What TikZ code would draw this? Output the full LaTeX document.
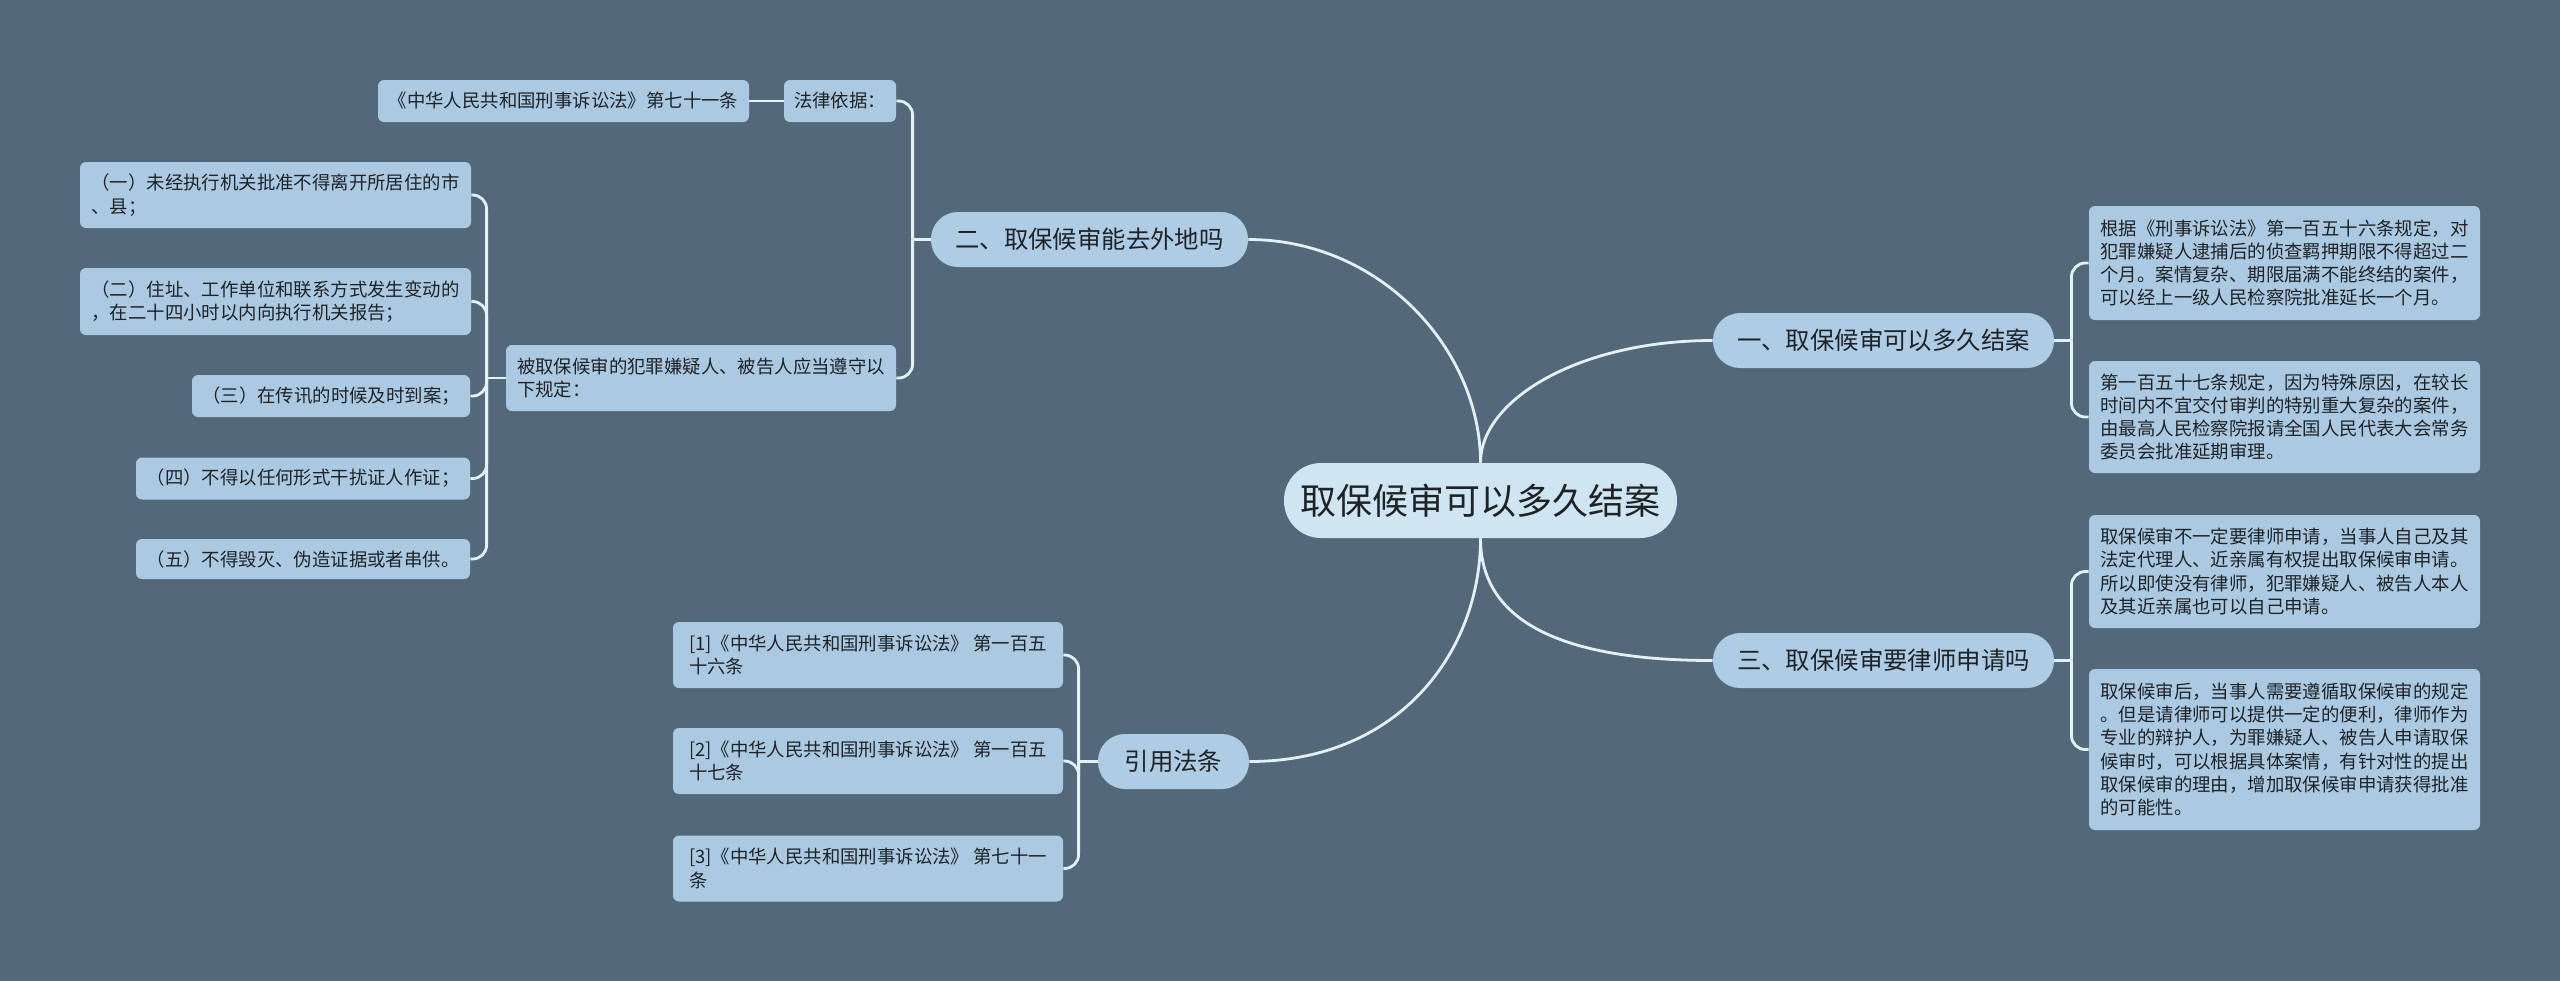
\documentclass[tikz,border=0pt]{standalone}
\usepackage{fontspec}
\setmainfont{Noto Sans CJK SC}
\usetikzlibrary{calc}
\definecolor{bg}{HTML}{53697A}
\definecolor{leaffill}{HTML}{ABCAE2}
\definecolor{brfill}{HTML}{AECCE3}
\definecolor{cfill}{HTML}{CFE5F1}
\definecolor{linec}{HTML}{E2F0F8}
\definecolor{txt}{HTML}{1E2328}
\tikzset{
  leaf/.style={fill=leaffill, rounded corners=3pt, inner sep=0pt, text=txt,
    font=\fontsize{9.2}{11.65}\selectfont, align=left},
  branch/.style={fill=brfill, rounded corners=13.5pt, inner sep=0pt, text=txt,
    minimum height=27.5pt, font=\fontsize{12.2}{14}\selectfont},
  root/.style={fill=cfill, rounded corners=18.5pt, inner sep=0pt, text=txt,
    minimum height=37.5pt, minimum width=196.5pt, font=\fontsize{18}{20}\selectfont},
  conn/.style={draw=linec, line width=1.4pt},
  brace/.style={conn, rounded corners=7pt}
}
\begin{document}
\begin{tikzpicture}[x=0.5pt,y=-0.5pt]
\fill[bg] (0,0) rectangle (2560,981);
\useasboundingbox (0,0) rectangle (2560,981);

% root and main branches
\node[root] (c) at (1480.5,500.5) {取保候审可以多久结案};
\node[branch, minimum width=158.5pt] (b2) at (1089.5,239.5) {二、取保候审能去外地吗};
\node[branch, minimum width=170.5pt] (b1) at (1883.5,340.5) {一、取保候审可以多久结案};
\node[branch, minimum width=170.5pt] (b3) at (1883.5,660.5) {三、取保候审要律师申请吗};
\node[branch, minimum width=75.5pt] (b4) at (1173.5,761.5) {引用法条};

% branch 2 children
\node[leaf, minimum width=56pt, minimum height=21pt] (law) at (840,101) {法律依据：};
\node[leaf, minimum width=185.5pt, minimum height=21pt] (law2) at (563.5,101) {《中华人民共和国刑事诉讼法》第七十一条};
\node[leaf, minimum width=195pt, minimum height=33pt] (rule) at (701,378) {被取保候审的犯罪嫌疑人、被告人应当遵守以\\下规定：};

% rule children
\node[leaf, minimum width=195.5pt, minimum height=33pt] (p1) at (275.5,195) {（一）未经执行机关批准不得离开所居住的市\\、县；};
\node[leaf, minimum width=195.5pt, minimum height=33.5pt] (p2) at (275.5,301.5) {（二）住址、工作单位和联系方式发生变动的\\，在二十四小时以内向执行机关报告；};
\node[leaf, minimum width=139pt, minimum height=21pt] (p3) at (331,396) {（三）在传讯的时候及时到案；};
\node[leaf, minimum width=167pt, minimum height=21pt] (p4) at (303,478.5) {（四）不得以任何形式干扰证人作证；};
\node[leaf, minimum width=167pt, minimum height=20pt] (p5) at (303,559) {（五）不得毁灭、伪造证据或者串供。};

% citations
\node[leaf, minimum width=195pt, minimum height=33pt] (f1) at (868,655) {[1]《中华人民共和国刑事诉讼法》 第一百五\\十六条};
\node[leaf, minimum width=195pt, minimum height=33pt] (f2) at (868,761) {[2]《中华人民共和国刑事诉讼法》 第一百五\\十七条};
\node[leaf, minimum width=195pt, minimum height=33pt] (f3) at (868,868.5) {[3]《中华人民共和国刑事诉讼法》 第七十一\\条};

% right leaves
\node[leaf, minimum width=195.5pt, minimum height=57pt] (r1) at (2284.5,263) {根据《刑事诉讼法》第一百五十六条规定，对\\犯罪嫌疑人逮捕后的侦查羁押期限不得超过二\\个月。案情复杂、期限届满不能终结的案件，\\可以经上一级人民检察院批准延长一个月。};
\node[leaf, minimum width=195.5pt, minimum height=56pt] (r2) at (2284.5,417) {第一百五十七条规定，因为特殊原因，在较长\\时间内不宜交付审判的特别重大复杂的案件，\\由最高人民检察院报请全国人民代表大会常务\\委员会批准延期审理。};
\node[leaf, minimum width=195.5pt, minimum height=56.5pt] (r3) at (2284.5,571.5) {取保候审不一定要律师申请，当事人自己及其\\法定代理人、近亲属有权提出取保候审申请。\\所以即使没有律师，犯罪嫌疑人、被告人本人\\及其近亲属也可以自己申请。};
\node[leaf, minimum width=195.5pt, minimum height=80.5pt] (r4) at (2284.5,749.5) {取保候审后，当事人需要遵循取保候审的规定\\。但是请律师可以提供一定的便利，律师作为\\专业的辩护人，为罪嫌疑人、被告人申请取保\\候审时，可以根据具体案情，有针对性的提出\\取保候审的理由，增加取保候审申请获得批准\\的可能性。};

% root connectors
\draw[conn] (c.north) .. controls +(0,-113) and +(132,0) .. (b2.east);
\draw[conn] (c.north) .. controls +(0,-63) and +(-133,0) .. (b1.west);
\draw[conn] (c.south) .. controls +(0,82) and +(-153,0) .. (b3.west);
\draw[conn] (c.south) .. controls +(0,112) and +(151,0) .. (b4.east);

% spines
\coordinate (s2) at ($(b2.west)+(-18,0)$);
\coordinate (sr) at ($(rule.west)+(-19,0)$);
\coordinate (s4) at ($(b4.west)+(-19,0)$);
\coordinate (s1) at ($(b1.east)+(17,0)$);
\coordinate (s3) at ($(b3.east)+(17,0)$);

\draw[conn] (b2.west) -- (s2);
\draw[brace] (s2) |- (law.east);
\draw[brace] (s2) |- (rule.east);
\draw[conn] (law.west) -- (law2.east);

\draw[conn] (rule.west) -- (sr);
\draw[brace] (sr) |- (p1.east);
\draw[brace] (sr) |- (p2.east);
\draw[brace] (sr) |- (p3.east);
\draw[brace] (sr) |- (p4.east);
\draw[brace] (sr) |- (p5.east);

\draw[conn] (b4.west) -- (s4);
\draw[brace] (s4) |- (f1.east);
\draw[brace] (s4) |- (f2.east);
\draw[brace] (s4) |- (f3.east);

\draw[conn] (b1.east) -- (s1);
\draw[brace] (s1) |- (r1.west);
\draw[brace] (s1) |- (r2.west);

\draw[conn] (b3.east) -- (s3);
\draw[brace] (s3) |- (r3.west);
\draw[brace] (s3) |- (r4.west);
\end{tikzpicture}
\end{document}
